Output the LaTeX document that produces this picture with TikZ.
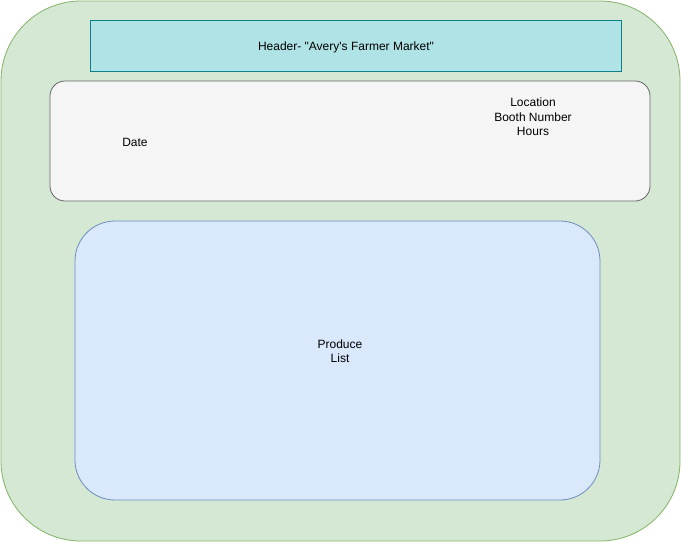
\documentclass[tikz,border=0pt]{standalone}
\usepackage{fontspec}
\setmainfont{Liberation Sans}[Ligatures=TeXOff]
\definecolor{outerfill}{HTML}{D5E8D4}
\definecolor{outerdraw}{HTML}{82B366}
\definecolor{headfill}{HTML}{B0E3E6}
\definecolor{headdraw}{HTML}{0E8088}
\definecolor{infofill}{HTML}{F5F5F5}
\definecolor{infodraw}{HTML}{666666}
\definecolor{prodfill}{HTML}{DAE8FC}
\definecolor{proddraw}{HTML}{6C8EBF}
\begin{document}
\begin{tikzpicture}[x=1pt,y=-1pt,
  lbl/.style={font=\fontsize{12}{14.5}\selectfont, align=center, inner sep=0pt},
  line width=0.8pt]
\useasboundingbox (0,0) rectangle (681,542);
\path[fill=outerfill, draw=outerdraw, rounded corners=80pt] (1,1) rectangle (680,541);
\node[draw=headdraw, fill=headfill, minimum width=531pt, minimum height=51pt, inner sep=0pt] (header) at (355.5,45.5) {};
\node[lbl] (htext) at (346,47) {Header- "Avery's Farmer Market"};
\path[fill=infofill, draw=infodraw, rounded corners=15pt] (50,81) rectangle (650,201);
\coordinate (info) at (350,141);
\node[lbl] (date) at (135,142) {Date};
\node[lbl] (loc) at (533,117) {Location\\Booth Number\\Hours};
\path[fill=prodfill, draw=proddraw, rounded corners=40pt] (75,221) rectangle (600,500);
\node[lbl] (prod) at (340,351) {Produce\\List};
\end{tikzpicture}
\end{document}
